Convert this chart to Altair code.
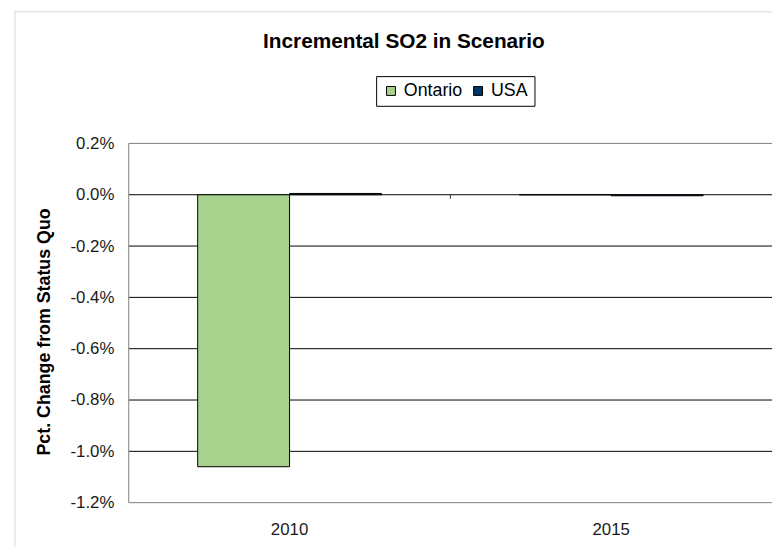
import altair as alt
import pandas as pd

# ---- data ----
years = ["2010", "2010", "2015", "2015"]
regions = ["Ontario", "USA", "Ontario", "USA"]
values = [-0.0106, 0.00005, 0.0, -0.00004]
series_order = ["Ontario", "USA"]
series_colors = ["#A9D18E", "#003366"]
y_ticks = [0.002, 0.0, -0.002, -0.004, -0.006, -0.008, -0.010, -0.012]
grid_vals = [0.0, -0.002, -0.004, -0.006, -0.008, -0.010]
title_text = "Incremental SO2 in Scenario"
y_title = "Pct. Change from Status Quo"

W, H = 650, 363
FONT = "Liberation Sans"
LBL = "#1a1a1a"

df = pd.DataFrame({"year": years, "region": regions, "value": values})
grid_df = pd.DataFrame({"g": grid_vals})

yscale = alt.Scale(domain=[-0.012, 0.002], nice=False)

bars = alt.Chart(df).mark_bar(stroke="black", strokeWidth=1).encode(
    x=alt.X(
        "year:N",
        scale=alt.Scale(paddingInner=0, paddingOuter=0),
        axis=alt.Axis(title=None, labelAngle=0, domain=False, ticks=False,
                      labelPadding=19, labelFontSize=17, labelFont=FONT,
                      labelColor=LBL),
    ),
    xOffset=alt.XOffset("region:N", sort=series_order,
                        scale=alt.Scale(paddingInner=0, paddingOuter=0.75)),
    y=alt.Y(
        "value:Q",
        scale=yscale,
        axis=alt.Axis(values=y_ticks, grid=False, domain=False, ticks=False,
                      labelExpr="(datum.value < -0.00001 ? '-' : '') + format(abs(datum.value), '.1%')",
                      labelPadding=15, labelFontSize=17, labelFont=FONT,
                      labelColor=LBL,
                      title=y_title, titleFont=FONT, titleFontSize=18,
                      titleFontWeight="bold", titleColor="black",
                      titleX=-85, titleY=190, titleAngle=270,
                      titleAlign="center", titleBaseline="middle"),
    ),
    color=alt.Color(
        "region:N",
        scale=alt.Scale(domain=series_order, range=series_colors),
        legend=alt.Legend(title=None, orient="none", legendX=250, legendY=-68,
                          direction="horizontal", strokeColor="black",
                          fillColor="white", padding=6, symbolType="square",
                          symbolSize=81, symbolStrokeWidth=1,
                          labelFontSize=18, labelFont=FONT, labelColor="black",
                          columnPadding=6, labelOffset=4, cornerRadius=0),
    ),
)

grid = alt.Chart(grid_df).mark_rule(color="black", strokeWidth=1).encode(
    y=alt.Y("g:Q", scale=yscale)
)

one = pd.DataFrame({"a": [0]})
BORDER = "#808080"
plot_left = alt.Chart(one).mark_rule(color=BORDER, strokeWidth=1).encode(
    x=alt.value(0), y=alt.value(0), y2=alt.value(H)
)
plot_top = alt.Chart(one).mark_rule(color=BORDER, strokeWidth=1).encode(
    x=alt.value(0), x2=alt.value(W), y=alt.value(0)
)
plot_bottom = alt.Chart(one).mark_rule(color=BORDER, strokeWidth=1).encode(
    x=alt.value(0), x2=alt.value(W), y=alt.value(H)
)
cat_tick = alt.Chart(one).mark_rule(color="#333333", strokeWidth=1).encode(
    x=alt.value(W / 2), y=alt.value(52), y2=alt.value(56)
)
outer_v = alt.Chart(one).mark_rule(color="#D9D9D9", strokeWidth=1).encode(
    x=alt.value(-115), y=alt.value(-134), y2=alt.value(H + 45)
)
outer_h = alt.Chart(one).mark_rule(color="#D9D9D9", strokeWidth=1).encode(
    x=alt.value(-115), x2=alt.value(W), y=alt.value(-133)
)
title = alt.Chart(pd.DataFrame({"t": [title_text]})).mark_text(
    font=FONT, fontSize=21, fontWeight="bold", color="black",
    align="center", baseline="alphabetic"
).encode(x=alt.value(278), y=alt.value(-96), text="t:N")

chart = alt.layer(outer_v, outer_h, grid, plot_left, plot_top, plot_bottom,
                  cat_tick, bars, title).properties(
    width=W, height=H,
    autosize="none",
    padding={"left": 122, "top": 134, "right": 0, "bottom": 45},
).configure_view(stroke=None)

chart.save("out.html", embed_options={"renderer": "svg", "actions": False})
